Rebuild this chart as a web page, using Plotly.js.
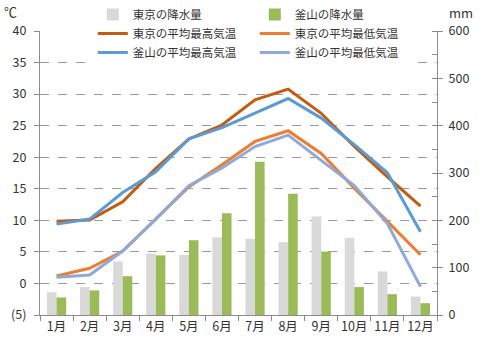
<!DOCTYPE html>
<html>
<head>
<meta charset="utf-8">
<script src="https://cdn.plot.ly/plotly-3.0.1.min.js"></script>
<style>html,body{margin:0;padding:0;background:#fff;}#chart{width:487px;height:355px;}</style>
</head>
<body>
<div id="chart"></div>
<script>
const months = ['1月','2月','3月','4月','5月','6月','7月','8月','9月','10月','11月','12月'];
const tokyoRain = [48, 59, 113, 130, 127, 164, 161, 154, 208, 163, 92, 39];
const busanRain = [37, 52, 82, 126, 158, 215, 324, 256, 134, 59, 44, 25];
const tokyoMax = [9.85, 10.05, 12.95, 18.25, 22.9, 25.1, 29.1, 30.8, 26.96, 21.7, 16.9, 12.27];
const tokyoMin = [1.18, 2.4, 5.14, 10.16, 15.3, 18.8, 22.5, 24.2, 20.6, 15.1, 9.8, 4.55];
const busanMax = [9.4, 10.2, 14.4, 17.7, 22.9, 24.7, 27.0, 29.3, 26.2, 22.0, 17.55, 8.2];
const busanMin = [0.97, 1.34, 5.14, 10.2, 15.5, 18.3, 21.7, 23.5, 19.5, 15.5, 9.5, -0.5];
const tempTicks = [-5, 0, 5, 10, 15, 20, 25, 30, 35, 40];
const tempTickText = ['(5)', '0', '5', '10', '15', '20', '25', '30', '35', '40'];

const FONT = '"Noto Sans CJK JP", "Noto Sans", sans-serif';
const lw = 3;
const data = [
  {type:'bar', name:'東京の降水量', x:months, y:tokyoRain, yaxis:'y', marker:{color:'#D9D9D9'}},
  {type:'bar', name:'釜山の降水量', x:months, y:busanRain, yaxis:'y', marker:{color:'#9BBB59'}},
  {type:'scatter', mode:'lines', name:'東京の平均最高気温', x:months, y:tokyoMax, yaxis:'y2', line:{color:'#C55A11', width:lw}},
  {type:'scatter', mode:'lines', name:'東京の平均最低気温', x:months, y:tokyoMin, yaxis:'y2', line:{color:'#ED7D31', width:lw}},
  {type:'scatter', mode:'lines', name:'釜山の平均最高気温', x:months, y:busanMax, yaxis:'y2', line:{color:'#5B9BD5', width:lw}},
  {type:'scatter', mode:'lines', name:'釜山の平均最低気温', x:months, y:busanMin, yaxis:'y2', line:{color:'#8EA9DB', width:lw}}
];
const axisColor = '#8c8c8c';
const layout = {
  width:487, height:355,
  margin:{l:40, r:50, t:31, b:40, autoexpand:false},
  paper_bgcolor:'#fff', plot_bgcolor:'#fff',
  font:{family:FONT, size:12.5, color:'#333'},
  barmode:'group', bargap:0.42, bargroupgap:0,
  showlegend:true,
  legend:{orientation:'h', x:0.133, xanchor:'left', yref:'container', y:1.0, yanchor:'top',
    bgcolor:'#fff', entrywidth:117, entrywidthmode:'pixels',
    font:{family:FONT, size:11.5, color:'#333'}, traceorder:'normal', tracegroupgap:0},
  xaxis:{type:'category', range:[-0.5, 11.5], showline:true, linecolor:axisColor, linewidth:1,
    ticks:'outside', tickson:'boundaries', ticklen:5, tickcolor:axisColor, tickangle:0,
    showgrid:false, zeroline:false, tickfont:{size:12.5}},
  yaxis:{side:'right', range:[0, 600], dtick:100, showline:true, linecolor:axisColor,
    ticks:'outside', ticklen:5, tickcolor:axisColor, showgrid:false, zeroline:false,
    minor:{ticks:'inside', dtick:50, ticklen:5, tickcolor:axisColor, showgrid:false},
    ticklabelstandoff:3, tickfont:{size:12.5}},
  yaxis2:{side:'left', overlaying:'y', range:[-5, 40], tickvals:tempTicks, ticktext:tempTickText,
    showline:true, linecolor:axisColor, ticks:'outside', ticklen:5, tickcolor:axisColor,
    showgrid:true, gridcolor:'#9a9a9a', griddash:'dash', gridwidth:1, zeroline:false,
    ticklabelstandoff:5, tickfont:{size:12.5}},
  annotations:[
    {xref:'paper', yref:'paper', x:-0.075, y:1.07, xanchor:'center', yanchor:'middle', text:'℃', showarrow:false, font:{size:13, color:'#333'}},
    {xref:'paper', yref:'paper', x:1.06, y:1.065, xanchor:'center', yanchor:'middle', text:'mm', showarrow:false, font:{size:13, color:'#333'}}
  ]
};
Plotly.newPlot('chart', data, layout, {displayModeBar:false, staticPlot:true});
</script>
</body>
</html>
